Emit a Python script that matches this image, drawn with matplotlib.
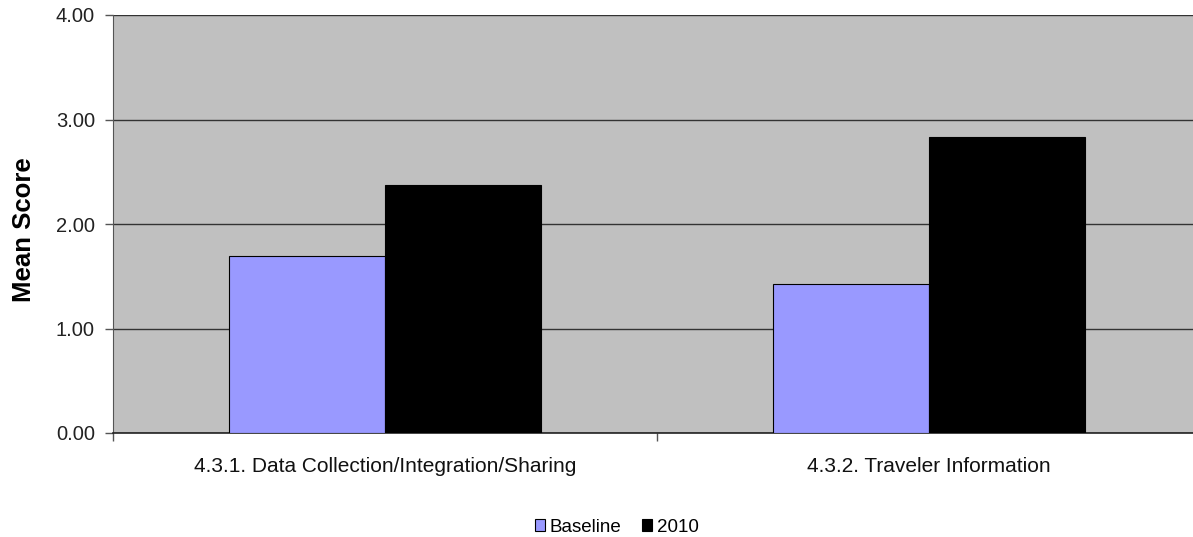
import numpy as np
import matplotlib
matplotlib.use('Agg')
import matplotlib.pyplot as plt

plt.rcParams['font.family'] = ['Liberation Sans', 'DejaVu Sans']

# data
categories = ['4.3.1. Data Collection/Integration/Sharing', '4.3.2. Traveler Information']
baseline = [1.69, 1.43]
y2010 = [2.37, 2.83]
series_names = ['Baseline', '2010']
yticks = [0.0, 1.0, 2.0, 3.0, 4.0]

W, H = 1193, 537
fig = plt.figure(figsize=(W / 100, H / 100), dpi=100)
# plot area runs past the right edge, like the cropped original
ax = fig.add_axes([113 / W, (H - 433) / H, 1088 / W, 418 / H])
ax.set_facecolor('#C0C0C0')

x = np.arange(len(categories))
width = 0.286
ax.bar(x - width / 2, baseline, width, color='#9999FF', edgecolor='black', linewidth=0.8,
       label=series_names[0], zorder=3)
ax.bar(x + width / 2, y2010, width, color='black', edgecolor='black', linewidth=0.8,
       label=series_names[1], zorder=3)

ax.set_xlim(-0.5, len(categories) - 0.5)
ax.set_ylim(0, 4)
ax.set_yticks(yticks)
ax.set_yticklabels([f'{v:.2f}' for v in yticks], fontsize=14.5, color='#222222')
ax.yaxis.grid(True, color='#333333', linewidth=1.0, zorder=1)

ax.set_xticks(x)
ax.set_xticklabels(categories, fontsize=15, color='#111111')
ax.tick_params(axis='x', which='major', length=0, pad=17)
ax.set_xticks(np.arange(-0.5, len(categories), 1.0), minor=True)
ax.tick_params(axis='x', which='minor', length=6, color='#555555', width=1)
ax.tick_params(axis='y', length=6, color='#555555', width=1, pad=7)

for side in ['top', 'right']:
    ax.spines[side].set_visible(False)
ax.spines['left'].set_color('#555555')
ax.spines['bottom'].set_color('#222222')
ax.spines['bottom'].set_linewidth(1.2)

ax.set_ylabel('Mean Score', fontsize=18.5, fontweight='bold')
ax.yaxis.set_label_coords((36 - 113) / 1088, (433 - 230) / 418)

fig.legend(loc='center', bbox_to_anchor=(0.517, 1 - 527 / H), ncol=2, frameon=False,
           fontsize=13.5, handlelength=0.55, handleheight=0.55, handletextpad=0.25,
           columnspacing=1.1)

fig.savefig('out.png', dpi=100)
